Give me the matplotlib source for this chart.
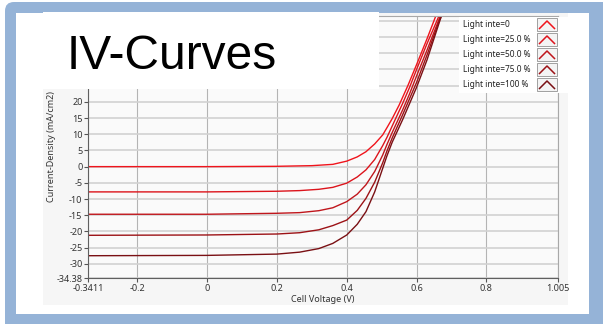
import matplotlib.pyplot as plt
from matplotlib.patches import Rectangle, FancyBboxPatch

# IV curves at several light intensities (voltage in V, current density in mA/cm2)
v_dark = [-0.3411, 0.0, 0.2, 0.3, 0.36, 0.40, 0.43, 0.455, 0.48, 0.503, 0.515,
          0.53, 0.55, 0.575, 0.60, 0.63, 0.655, 0.70]
j_dark = [0.0, 0.0, 0.1, 0.3, 0.7, 1.7, 3.0, 4.6, 7.0, 9.8, 12.0,
          14.8, 19.0, 25.0, 31.5, 39.5, 46.5, 57.0]

v_lit = [-0.3411, 0.0, 0.2, 0.265, 0.32, 0.36, 0.40, 0.43, 0.455, 0.48, 0.503,
         0.515, 0.53, 0.545, 0.56, 0.58, 0.60, 0.63, 0.668, 0.70]
j_25 = [-7.8, -7.8, -7.6, -7.4, -7.0, -6.4, -5.1, -3.2, -1.0, 2.2, 6.5,
        9.0, 12.5, 16.0, 19.5, 24.5, 30.0, 38.0, 47.5, 55.0]
j_50 = [-14.7, -14.7, -14.4, -14.2, -13.6, -12.7, -10.8, -8.5, -5.6, -1.5, 3.6,
        6.8, 10.5, 14.0, 17.5, 22.5, 28.0, 36.0, 46.5, 54.0]
j_75 = [-21.2, -21.1, -20.8, -20.4, -19.5, -18.2, -16.5, -13.5, -9.8, -4.8, 1.2,
        4.8, 8.8, 12.4, 16.0, 21.0, 26.0, 34.5, 46.0, 54.0]
j_100 = [-27.5, -27.4, -27.0, -26.4, -25.3, -23.7, -21.1, -17.8, -13.9, -7.8, -0.5,
         3.3, 7.5, 11.0, 14.5, 19.5, 24.5, 33.0, 45.5, 54.0]

labels = ["Light inte=0", "Light inte=25.0 %", "Light inte=50.0 %",
          "Light inte=75.0 %", "Light inte=100 %"]
colors = ["#f0141c", "#dc141c", "#c0161c", "#9c1216", "#7a1014"]

x_ticks = [-0.3411, -0.2, 0, 0.2, 0.4, 0.6, 0.8, 1.005]
x_labels = ["-0.3411", "-0.2", "0", "0.2", "0.4", "0.6", "0.8", "1.005"]
y_ticks = [-34.38, -30, -25, -20, -15, -10, -5, 0, 5, 10, 15, 20, 25, 30, 35, 40, 45]
# ticks above 20 sit under the title box, so they carry no label
y_labels = ["-34.38"] + [str(t) if t <= 20 else "" for t in y_ticks[1:]]

small = "Noto Sans"

W, H = 603, 324
fig = plt.figure(figsize=(W / 100, H / 100), dpi=100)
fig.patch.set_facecolor("white")

# background layer in pixel coordinates: slide border and graph panel
bg = fig.add_axes([0, 0, 1, 1], zorder=-1)
bg.set_xlim(0, W)
bg.set_ylim(H, 0)
bg.axis("off")
bg.add_patch(FancyBboxPatch((5, 2), 620, 340, boxstyle="round,pad=0,rounding_size=9",
                            fc="#95b3d7", ec="none"))
bg.add_patch(Rectangle((16, 13), 573, 301, fc="white", ec="none"))
bg.add_patch(Rectangle((43, 13), 525, 292, fc="#f6f6f6", ec="none"))

ax = fig.add_axes([88 / W, 1 - 278 / H, (558 - 88) / W, (278 - 16) / H])
ax.set_facecolor("#fafafa")

ax.plot(v_dark, j_dark, color=colors[0], lw=1.0)
for jj, c in zip([j_25, j_50, j_75, j_100], colors[1:]):
    ax.plot(v_lit, jj, color=c, lw=1.0)

ax.set_xlim(-0.3411, 1.005)
ax.set_ylim(-34.38, 46.5)
ax.set_xticks(x_ticks, x_labels)
ax.set_yticks(y_ticks, y_labels)
ax.xaxis.grid(True, color="#b4b4b4", lw=0.8)
ax.yaxis.grid(True, color="#d2d2d2", lw=1.2)
ax.set_axisbelow(True)
ax.tick_params(direction="out", length=3, width=0.8, color="#555555",
               labelsize=6.5, labelcolor="#333333", pad=1)
for t in ax.get_xticklabels() + ax.get_yticklabels():
    t.set_family(small)
for s in ax.spines.values():
    s.set_color("#a8a8a8")
    s.set_linewidth(0.8)
ax.spines["left"].set_color("#606060")
ax.spines["bottom"].set_color("#606060")
ax.set_xlabel("Cell Voltage (V)", fontsize=6.5, color="#333333", labelpad=2,
              family=small)
ax.set_ylabel("Current-Density (mA/cm2)", fontsize=6.5, color="#333333", labelpad=0,
              family=small)

# foreground layer: title box and legend
fg = fig.add_axes([0, 0, 1, 1], zorder=5)
fg.set_xlim(0, W)
fg.set_ylim(H, 0)
fg.axis("off")
fg.patch.set_alpha(0)
fg.add_patch(Rectangle((43, 12), 336, 77, fc="white", ec="none"))
fg.text(67, 69, "IV-Curves", fontsize=34.5, family="Liberation Sans",
        va="baseline", ha="left", color="black")

fg.add_patch(Rectangle((459, 17), 109, 76, fc="white", ec="none"))
for i, (lab, c) in enumerate(zip(labels, colors)):
    y = 24.5 + i * 15
    fg.text(463, y, lab, fontsize=6, family=small, color="#222222",
            va="center", ha="left")
    fg.add_patch(Rectangle((537, y - 6.5), 20, 13, fc="#f4f4f4", ec="#a0a0a0", lw=0.7))
    fg.plot([539.5, 547, 554.5], [y + 4, y - 3.5, y + 4], color=c, lw=1.1)

fig.savefig("out.png", dpi=100, facecolor=fig.get_facecolor())
